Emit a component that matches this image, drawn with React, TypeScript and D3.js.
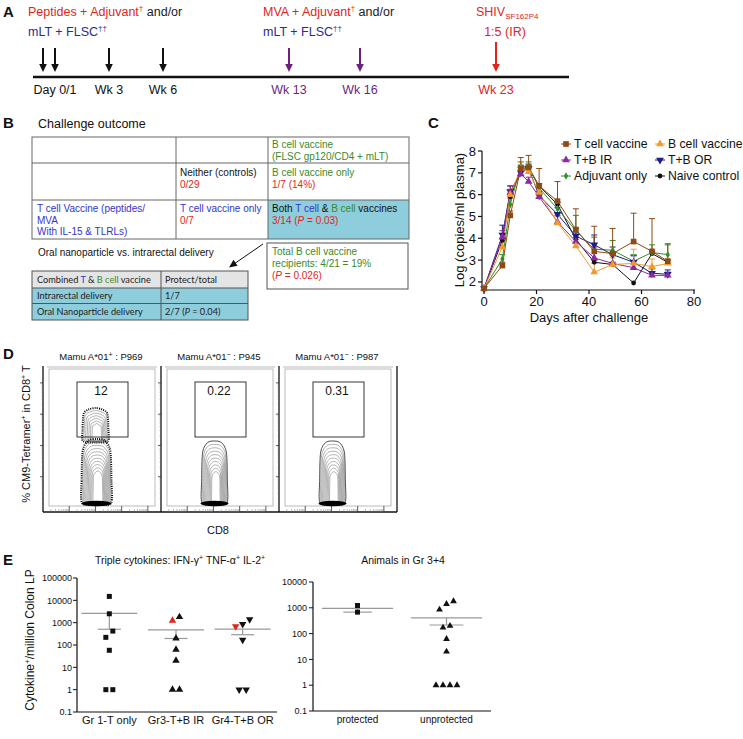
import React, { useEffect } from 'react';
import * as d3 from 'd3';

const FONT = "'Liberation Sans', Arial, Helvetica, sans-serif";
const RED = '#e1251b';
const NAVY = '#2e2b90';
const PURPLE = '#6d1f7e';
const GREEN = '#3b8a2a';
const BLUE = '#3434cc';
const CELL = '#8ecddc';

// ---------- A: timeline ----------
const primeDays = [0, 1, 21, 42];
const boostDays = [91, 112];
const challengeDays = [161];
const timeLabels = ['Day 0/1', 'Wk 3', 'Wk 6', 'Wk 13', 'Wk 16', 'Wk 23'];
const timeLabelDays = [1, 21, 42, 91, 112, 161];

// ---------- C: viral loads ----------
const days = [0, 7, 10, 14, 17, 21, 28, 35, 42, 49, 57, 64, 70];
const seriesNames = ['T cell vaccine', 'B cell vaccine', 'T+B IR', 'T+B OR', 'Adjuvant only', 'Naive control'];
const tCell = [1.7, 2.75, 5.05, 7.2, 7.25, 6.4, 5.7, 4.4, 3.4, 3.3, 3.85, 3.4, 2.95];
const tCellErr = [0, 0.15, 0.2, 0.5, 0.55, 0.8, 0.9, 0.95, 1.15, 1.15, 1.3, 1.5, 0.8];
const bCell = [1.7, 3.6, 6.0, 7.2, 7.05, 6.1, 4.7, 3.65, 2.45, 2.8, 2.85, 2.7, 2.85];
const bCellErr = [0, 0.25, 0.25, 0.3, 0.3, 0.25, 0.3, 0.3, 0.4, 0.3, 0.65, 0.35, 0.2];
const tbIR = [1.7, 4.05, 6.1, 6.95, 6.6, 5.9, 4.75, 3.85, 3.1, 2.85, 2.65, 2.3, 2.3];
const tbIRErr = [0, 0.3, 0.3, 0.3, 0.2, 0.2, 0.3, 0.4, 0.5, 0.4, 0.55, 0.1, 0.15];
const tbOR = [1.7, 4.15, 6.15, 7.0, 7.2, 5.95, 5.1, 4.1, 3.7, 3.25, 2.9, 2.4, 2.35];
const tbORErr = [0, 0.45, 0.25, 0.35, 0.2, 0.2, 0.3, 0.35, 0.45, 0.35, 0.3, 0.2, 0.2];
const adjOnly = [1.7, 3.05, 5.55, 7.3, 7.3, 6.3, 5.35, 4.35, 3.5, 3.45, 2.95, 3.35, 3.25];
const adjOnlyErr = [0, 0.2, 0.3, 0.2, 0.2, 0.2, 0.3, 0.7, 0.55, 0.45, 0.3, 0.35, 0.45];
const naive = [1.7, 3.9, 5.9, 7.15, 7.2, 6.4, 5.55, 3.95, 2.9, 2.8, 1.95, 3.3, 2.9];
const naiveErr = [0, 0.1, 0.1, 0.1, 0.1, 0.1, 0.1, 0.1, 0.1, 0.1, 0, 0.1, 0.1];
const cTicksX = [0, 20, 40, 60, 80];
const cTicksY = [2, 3, 4, 5, 6, 7, 8];

// ---------- D: flow ----------
const facsStatus = ['+', '\u2212', '\u2212'];
const facsAnimal = ['P969', 'P945', 'P987'];
const facsGate = ['12', '0.22', '0.31'];

// ---------- E: cytokines ----------
const eGroups = ['Gr 1-T only', 'Gr3-T+B IR', 'Gr4-T+B OR'];
const gr1 = [15000, 2500, 420, 220, 58, 1, 1];
const gr3Protected = [1230];
const gr3Unprotected = [1800, 200, 62, 20, 1, 1];
const gr4Protected = [680];
const gr4Unprotected = [1400, 850, 170, 1, 1];
const eTicks1 = [0.1, 1, 10, 100, 1000, 10000, 100000];
const eTicks2 = [0.1, 1, 10, 100, 1000, 10000];
const outcomeCats = ['protected', 'unprotected'];

function fmt(v: number) {
  return v < 1 ? String(v) : d3.format('d')(v);
}

function swarm(values: number[], y: (v: number) => number, thr = 6.5, gap = 7) {
  const items = values.map((v, i) => ({ v, i, py: y(v), off: 0 })).sort((a, b) => a.py - b.py);
  const rows: any[][] = [];
  items.forEach((it, k) => {
    if (k > 0 && it.py - items[k - 1].py < thr) rows[rows.length - 1].push(it);
    else rows.push([it]);
  });
  rows.forEach((r) => {
    r.sort((a, b) => a.v - b.v);
    r.forEach((it, j) => (it.off = (j - (r.length - 1) / 2) * gap));
  });
  return items;
}

function Arrow({ x, y1, y2, color }: any) {
  return (
    <g>
      <line x1={x} x2={x} y1={y1} y2={y2 - 6} stroke={color} strokeWidth={2} />
      <path d={`M${x - 3.8},${y2 - 8}L${x + 3.8},${y2 - 8}L${x},${y2}Z`} fill={color} />
    </g>
  );
}

function PanelA() {
  const x = d3.scaleLinear().domain([0, 1, 21, 42, 91, 112, 161]).range([43, 55, 109, 163, 289, 360, 496]);
  const labelColor = (d: number) => (d >= 161 ? RED : d >= 91 ? PURPLE : '#111');
  return (
    <g fontSize={12.5}>
      <text x={3} y={17} fontWeight="bold" fontSize={15}>A</text>
      <text x={28} y={16}>
        <tspan fill={RED}>Peptides + Adjuvant</tspan>
        <tspan fill={RED} dy={-5} fontSize={8}>†</tspan>
        <tspan dy={5} fill="#222"> and/or</tspan>
      </text>
      <text x={28} y={36} fill={NAVY}>
        <tspan>mLT + FLSC</tspan>
        <tspan dy={-5} fontSize={8}>††</tspan>
      </text>
      <text x={263} y={16}>
        <tspan fill={RED}>MVA + Adjuvant</tspan>
        <tspan fill={RED} dy={-5} fontSize={8}>†</tspan>
        <tspan dy={5} fill="#222"> and/or</tspan>
      </text>
      <text x={263} y={36} fill={NAVY}>
        <tspan>mLT + FLSC</tspan>
        <tspan dy={-5} fontSize={8}>††</tspan>
      </text>
      <text x={476} y={16} fill={RED}>
        <tspan>SHIV</tspan>
        <tspan dy={3} fontSize={8}>SF162P4</tspan>
      </text>
      <text x={505} y={36} fill={RED} textAnchor="middle">1:5 (IR)</text>
      {primeDays.map((d) => <Arrow key={'p' + d} x={x(d)} y1={48} y2={72} color="#111" />)}
      {boostDays.map((d) => <Arrow key={'b' + d} x={x(d)} y1={48} y2={72} color={PURPLE} />)}
      {challengeDays.map((d) => <Arrow key={'c' + d} x={x(d)} y1={42} y2={72} color={RED} />)}
      <line x1={33} x2={569} y1={77} y2={77} stroke="#111" strokeWidth={2.5} />
      {timeLabels.map((t, i) => (
        <text key={t} x={x(timeLabelDays[i])} y={94} textAnchor="middle" fill={labelColor(timeLabelDays[i])}>{t}</text>
      ))}
    </g>
  );
}

function PanelB() {
  const L = 32, R = 409, C1 = 176, C2 = 268;
  const rows = [137, 163, 200, 239];
  const fs = 10;
  return (
    <g fontSize={fs}>
      <text x={3} y={128} fontWeight="bold" fontSize={15}>B</text>
      <text x={38} y={128} fontSize={12.5}>Challenge outcome</text>
      <rect x={C2} y={rows[2]} width={R - C2} height={rows[3] - rows[2]} fill={CELL} />
      <rect x={L} y={rows[0]} width={R - L} height={rows[3] - rows[0]} fill="none" stroke="#666" />
      {rows.slice(1, 3).map((r) => <line key={r} x1={L} x2={R} y1={r} y2={r} stroke="#666" />)}
      {[C1, C2].map((c) => <line key={c} x1={c} x2={c} y1={rows[0]} y2={rows[3]} stroke="#666" />)}
      <text x={272} y={148} fill={GREEN}>B cell vaccine</text>
      <text x={272} y={160} fill={GREEN}>(FLSC gp120/CD4 + mLT)</text>
      <text x={180} y={176} fill="#111">Neither (controls)</text>
      <text x={180} y={188} fill={RED}>0/29</text>
      <text x={272} y={176} fill={GREEN}>B cell vaccine only</text>
      <text x={272} y={188} fill={RED}>1/7 (14%)</text>
      <text x={37} y={212} fill={BLUE}>T cell Vaccine  (peptides/</text>
      <text x={37} y={223.5} fill={BLUE}>MVA</text>
      <text x={37} y={235} fill={BLUE}>With IL-15 &amp; TLRLs)</text>
      <text x={180} y={212} fill={BLUE}>T cell vaccine only</text>
      <text x={180} y={224} fill={RED}>0/7</text>
      <text x={272} y={212} fill="#111">
        <tspan>Both </tspan><tspan fill={BLUE}>T cell</tspan><tspan> &amp; </tspan>
        <tspan fill={GREEN}>B cell</tspan><tspan> vaccines</tspan>
      </text>
      <text x={272} y={224} fill={RED}>
        <tspan>3/14 (</tspan><tspan fontStyle="italic">P</tspan><tspan> = 0.03)</tspan>
      </text>
      <text x={38} y={256} fill="#111">Oral nanoparticle vs. intrarectal delivery</text>
      <line x1={263} y1={244} x2={234} y2={264} stroke="#111" strokeWidth={1} />
      <path d="M229,267.5L233.5,259.8L237.5,265.8Z" fill="#111" />
      <rect x={267} y={243} width={141} height={46} fill="#fff" stroke="#555" />
      <text x={272} y={255} fill={GREEN}>Total B cell vaccine</text>
      <text x={272} y={267} fill={GREEN}>recipients:  4/21 = 19%</text>
      <text x={272} y={279} fill={RED}>
        <tspan>(</tspan><tspan fontStyle="italic">P</tspan><tspan> = 0.026)</tspan>
      </text>
      <g fontFamily="Lato, 'Open Sans', sans-serif" fontSize={9.2}>
        <rect x={32} y={271} width={216} height={17} fill="#e4e4e4" />
        <rect x={32} y={288} width={216} height={32} fill={CELL} />
        <rect x={32} y={271} width={216} height={49} fill="none" stroke="#555" />
        <line x1={32} x2={248} y1={288} y2={288} stroke="#555" />
        <line x1={32} x2={248} y1={303.5} y2={303.5} stroke="#555" />
        <line x1={161} x2={161} y1={271} y2={320} stroke="#555" />
        <text x={37} y={283} fill="#222">
          <tspan>Combined </tspan><tspan fill={BLUE}>T</tspan><tspan> &amp; </tspan>
          <tspan fill={GREEN}>B cell</tspan><tspan> vaccine</tspan>
        </text>
        <text x={165} y={283} fill="#222">Protect/total</text>
        <text x={37} y={299} fill="#222">Intrarectal delivery</text>
        <text x={165} y={299} fill="#222">1/7</text>
        <text x={37} y={315} fill="#222">Oral Nanoparticle delivery</text>
        <text x={165} y={315} fill="#222">
          <tspan>2/7 (</tspan><tspan fontStyle="italic">P</tspan><tspan> = 0.04)</tspan>
        </text>
      </g>
    </g>
  );
}

function PanelC() {
  const x = d3.scaleLinear().domain([0, 80]).range([484, 694]);
  const y = d3.scaleLinear().domain([1.63, 8]).range([290, 151]);
  const values = [tCell, bCell, tbIR, tbOR, adjOnly, naive];
  const errs = [tCellErr, bCellErr, tbIRErr, tbORErr, adjOnlyErr, naiveErr];
  const colors = ['#8e4a14', '#f39a2e', '#8a2a9e', '#1d1d8a', '#2f8f2a', '#111'];
  const symTypes = [d3.symbolSquare, d3.symbolTriangle, d3.symbolTriangle, d3.symbolTriangle, d3.symbolDiamond, d3.symbolCircle];
  const symSizes = [32, 26, 26, 26, 16, 18];
  const rot = [0, 0, 0, 180, 0, 0];
  const line = d3.line<number>().x((_, i) => x(days[i])).y((v) => y(v));
  const order = [5, 4, 3, 2, 1, 0];
  const mk = (i: number) => d3.symbol().type(symTypes[i]).size(symSizes[i])() as string;
  const legendPos = [[566, 144], [660, 144], [566, 160], [660, 160], [566, 176], [660, 176]];
  return (
    <g fontSize={13}>
      <text x={428} y={128} fontWeight="bold" fontSize={15}>C</text>
      <line x1={482} x2={482} y1={151} y2={290} stroke="#111" strokeWidth={1.2} />
      <line x1={482} x2={695} y1={290} y2={290} stroke="#111" strokeWidth={1.2} />
      {cTicksY.map((t) => (
        <g key={t}>
          <line x1={478} x2={482} y1={y(t)} y2={y(t)} stroke="#111" strokeWidth={1.2} />
          <text x={476} y={y(t) + 4.5} textAnchor="end">{t}</text>
        </g>
      ))}
      {cTicksX.map((t) => (
        <g key={t}>
          <line x1={x(t)} x2={x(t)} y1={290} y2={294} stroke="#111" strokeWidth={1.2} />
          <text x={x(t)} y={306} textAnchor="middle">{t}</text>
        </g>
      ))}
      <text x={x(40)} y={322} textAnchor="middle">Days after challenge</text>
      <text transform={`translate(464,220) rotate(-90)`} textAnchor="middle">Log (copies/ml plasma)</text>
      {order.map((s) => (
        <path key={'l' + s} d={line(values[s]) as string} fill="none" stroke={colors[s]} strokeWidth={1} />
      ))}
      {order.map((s) => (
        <g key={'e' + s} stroke={colors[s]} strokeWidth={1}>
          {values[s].map((v, i) => errs[s][i] > 0 ? (
            <g key={i}>
              <line x1={x(days[i])} x2={x(days[i])} y1={y(v)} y2={y(v + errs[s][i])} />
              <line x1={x(days[i]) - 3} x2={x(days[i]) + 3} y1={y(v + errs[s][i])} y2={y(v + errs[s][i])} />
            </g>
          ) : null)}
        </g>
      ))}
      {order.map((s) => (
        <g key={'m' + s} fill={colors[s]}>
          {values[s].map((v, i) => (
            <path key={i} d={mk(s)} transform={`translate(${x(days[i])},${y(v)}) rotate(${rot[s]})`} />
          ))}
        </g>
      ))}
      <g fontSize={12.2}>
        {seriesNames.map((n, s) => (
          <g key={n} transform={`translate(${legendPos[s][0]},${legendPos[s][1]})`}>
            <line x1={-5} x2={5} y1={0} y2={0} stroke={colors[s]} strokeWidth={1} />
            <path d={mk(s)} fill={colors[s]} transform={`rotate(${rot[s]})`} />
            <text x={8} y={4.3}>{n}</text>
          </g>
        ))}
      </g>
    </g>
  );
}

function colPath(cx: number, top: number, bot: number, hw: number) {
  const h = bot - top;
  const pts: [number, number][] = [
    [cx - hw, bot], [cx - hw * 1.03, bot - h * 0.35], [cx - hw * 0.95, top + h * 0.18], [cx - hw * 0.55, top + 1.5],
    [cx, top], [cx + hw * 0.55, top + 1.5], [cx + hw * 0.95, top + h * 0.18], [cx + hw * 1.03, bot - h * 0.35],
    [cx + hw, bot], [cx, bot + 1.5],
  ];
  return d3.line().curve(d3.curveCardinalClosed.tension(0.2))(pts) as string;
}

function Population({ cx, top, bot, hw, n, outer }: any) {
  const levels = d3.range(n).map((j) => j / n);
  return (
    <g fill="none">
      {levels.map((t, j) => (
        <path key={j} d={colPath(cx + t * 1.5, top + t * (bot - top) * 0.55, bot - t * 2, hw * (1 - 0.75 * t))}
          stroke={j === 0 && outer ? '#000' : j === 0 ? '#222' : '#555'}
          strokeWidth={j === 0 && outer ? 2 : j === 0 ? 0.8 : 0.45}
          strokeDasharray={j === 0 && outer ? '1 1.2' : undefined} />
      ))}
    </g>
  );
}

function PanelD() {
  const fy = d3.scaleLinear().domain([0, 4.54]).range([508, 366]);
  const fx = d3.scaleLinear().domain([0, 4.5]).range([0, 118]);
  const minor = d3.range(0, 4).flatMap((d) => d3.range(2, 10).map((m) => d + Math.log10(m)));
  return (
    <g>
      <text x={3} y={359} fontWeight="bold" fontSize={15}>D</text>
      <text transform="translate(30,434) rotate(-90)" textAnchor="middle" fontSize={11}>
        <tspan>% CM9-Tetramer</tspan><tspan dy={-4} fontSize={7}>+</tspan>
        <tspan dy={4}> in CD8</tspan><tspan dy={-4} fontSize={7}>+</tspan><tspan dy={4}> T</tspan>
      </text>
      <text x={218} y={534} textAnchor="middle" fontSize={11}>CD8</text>
      {facsAnimal.map((a, i) => {
        const x0 = 43 + i * 118;
        const cx = x0 + 53.5;
        return (
          <g key={a}>
            <text x={x0 + 58} y={360} textAnchor="middle" fontSize={9.5}>
              <tspan>Mamu A*01</tspan><tspan dy={-3.5} fontSize={7}>{facsStatus[i]}</tspan>
              <tspan dy={3.5}> : {a}</tspan>
            </text>
            <rect x={x0 + 6} y={369} width={106} height={137} fill="none" stroke="#aaa" strokeWidth={0.8} />
            <line x1={x0 + 4} x2={x0 + 114} y1={367} y2={367} stroke="#bbb" strokeWidth={1} />
            <line x1={x0} x2={x0} y1={366} y2={512} stroke="#111" strokeWidth={1.3} />
            <line x1={x0} x2={x0 + 118} y1={512} y2={512} stroke="#111" strokeWidth={1.3} />
            {[1, 2, 3, 4].map((d) => (
              <line key={'ly' + d} x1={x0 - 3} x2={x0} y1={fy(d)} y2={fy(d)} stroke="#333" strokeWidth={0.8} />
            ))}
            {minor.map((d, k) => (
              <line key={'my' + k} x1={x0 - 1.5} x2={x0} y1={fy(d)} y2={fy(d)} stroke="#777" strokeWidth={0.5} />
            ))}
            {[1, 2, 3, 4].map((d) => (
              <line key={'lx' + d} x1={x0 + fx(d)} x2={x0 + fx(d)} y1={506} y2={512} stroke="#333" strokeWidth={0.8} />
            ))}
            {minor.map((d, k) => (
              <line key={'mx' + k} x1={x0 + fx(d)} x2={x0 + fx(d)} y1={509} y2={512} stroke="#777" strokeWidth={0.5} />
            ))}
            {i === 0 && <Population cx={cx - 1} top={408} bot={441} hw={12.5} n={7} outer />}
            <Population cx={cx} top={i === 0 ? 439 : 441} bot={503} hw={i === 0 ? 14.5 : 12.5} n={i === 0 ? 11 : 10} outer={i === 0} />
            <ellipse cx={cx} cy={503.5} rx={i === 0 ? 15 : 14} ry={2.8} fill="#000" />
            <rect x={x0 + 34} y={382} width={51} height={55} fill="none" stroke="#222" strokeWidth={0.9} />
            <text x={x0 + 58} y={395} textAnchor="middle" fontSize={12}>{facsGate[i]}</text>
          </g>
        );
      })}
      <line x1={397} x2={397} y1={366} y2={512} stroke="#111" strokeWidth={1.3} />
    </g>
  );
}

function ScatterGroup({ values, cx, y, shape, fill, size }: any) {
  const pts = swarm(values, y);
  const sym = d3.symbol().type(shape === 'square' ? d3.symbolSquare : d3.symbolTriangle).size(size)() as string;
  return (
    <g fill={fill}>
      {pts.map((p) => (
        <path key={p.i} d={sym} transform={`translate(${cx + p.off},${p.py}) rotate(${shape === 'down' ? 180 : 0})`} />
      ))}
    </g>
  );
}

function MeanSem({ values, cx, y, longW, shortW }: any) {
  const m = d3.mean(values) as number;
  const sem = (d3.deviation(values) as number) / Math.sqrt(values.length);
  const lo = m - sem;
  return (
    <g stroke="#999" strokeWidth={1.2}>
      <line x1={cx - longW / 2} x2={cx + longW / 2} y1={y(m)} y2={y(m)} />
      <line x1={cx} x2={cx} y1={y(m)} y2={y(lo)} />
      <line x1={cx - shortW / 2} x2={cx + shortW / 2} y1={y(lo)} y2={y(lo)} />
    </g>
  );
}

function PanelE() {
  const y1 = d3.scaleLog().domain([0.1, 100000]).range([712, 578]);
  const x1 = d3.scalePoint().domain(eGroups).range([76, 276]).padding(0.5);
  const y2 = d3.scaleLog().domain([0.1, 10000]).range([711, 582]);
  const x2 = d3.scalePoint().domain(outcomeCats).range([313, 491]).padding(0.5);
  const s1 = x1.step();
  const s2 = x2.step();
  const gr3All = [...gr3Protected, ...gr3Unprotected];
  const gr4All = [...gr4Protected, ...gr4Unprotected];
  const protectedAll = [...gr3Protected, ...gr4Protected];
  const unprotectedAll = [...gr3Unprotected, ...gr4Unprotected];
  const sw3 = swarm(gr3All, y1);
  const sw4 = swarm(gr4All, y1);
  const tri = d3.symbol().type(d3.symbolTriangle).size(24)() as string;
  const groupData = [gr1, gr3All, gr4All];
  return (
    <g>
      <text x={3} y={565} fontWeight="bold" fontSize={15}>E</text>
      <text x={180} y={564} textAnchor="middle" fontSize={10.5}>
        <tspan>Triple cytokines: IFN-γ</tspan><tspan dy={-4} fontSize={7}>+</tspan>
        <tspan dy={4}> TNF-α</tspan><tspan dy={-4} fontSize={7}>+</tspan>
        <tspan dy={4}> IL-2</tspan><tspan dy={-4} fontSize={7}>+</tspan>
      </text>
      <text x={403} y={564} textAnchor="middle" fontSize={10.5}>Animals in Gr 3+4</text>
      <text transform="translate(34,640) rotate(-90)" textAnchor="middle" fontSize={12}>
        <tspan>Cytokine</tspan><tspan dy={-4} fontSize={8}>+</tspan><tspan dy={4}>/million Colon LP</tspan>
      </text>
      <line x1={77} x2={77} y1={578} y2={712} stroke="#111" strokeWidth={1.2} />
      <line x1={77} x2={277} y1={712} y2={712} stroke="#111" strokeWidth={1.2} />
      {eTicks1.map((t) => (
        <g key={t}>
          <line x1={73} x2={77} y1={y1(t)} y2={y1(t)} stroke="#111" strokeWidth={1} />
          <text x={72} y={y1(t) + 3.2} textAnchor="end" fontSize={9}>{fmt(t)}</text>
        </g>
      ))}
      {eGroups.map((g) => (
        <text key={g} x={x1(g)} y={724} textAnchor="middle" fontSize={11}>{g}</text>
      ))}
      {groupData.map((vals, k) => (
        <MeanSem key={k} values={vals} cx={x1(eGroups[k]) as number} y={y1} longW={s1 * 0.84} shortW={s1 * 0.345} />
      ))}
      <ScatterGroup values={gr1} cx={x1(eGroups[0])} y={y1} shape="square" fill="#111" size={25} />
      <g>
        {sw3.map((p) => (
          <path key={p.i} d={tri} fill={p.i < gr3Protected.length ? RED : '#111'}
            transform={`translate(${(x1(eGroups[1]) as number) + p.off},${p.py})`} />
        ))}
        {sw4.map((p) => (
          <path key={p.i} d={tri} fill={p.i < gr4Protected.length ? RED : '#111'}
            transform={`translate(${(x1(eGroups[2]) as number) + p.off},${p.py}) rotate(180)`} />
        ))}
      </g>
      <line x1={313} x2={313} y1={582} y2={711} stroke="#111" strokeWidth={1.2} />
      <line x1={313} x2={491} y1={711} y2={711} stroke="#111" strokeWidth={1.2} />
      {eTicks2.map((t) => (
        <g key={t}>
          <line x1={309} x2={313} y1={y2(t)} y2={y2(t)} stroke="#111" strokeWidth={1} />
          <text x={307} y={y2(t) + 3.2} textAnchor="end" fontSize={9}>{fmt(t)}</text>
        </g>
      ))}
      {outcomeCats.map((g) => (
        <text key={g} x={x2(g)} y={723} textAnchor="middle" fontSize={10}>{g}</text>
      ))}
      <MeanSem values={protectedAll} cx={x2('protected') as number} y={y2} longW={s2 * 0.8} shortW={s2 * 0.32} />
      <MeanSem values={unprotectedAll} cx={x2('unprotected') as number} y={y2} longW={s2 * 0.8} shortW={s2 * 0.38} />
      <ScatterGroup values={protectedAll} cx={x2('protected')} y={y2} shape="square" fill="#111" size={25} />
      <ScatterGroup values={unprotectedAll} cx={x2('unprotected')} y={y2} shape="up" fill="#111" size={20} />
    </g>
  );
}

export default function App() {
  useEffect(() => {
    document.body.style.margin = '0';
  }, []);
  return (
    <svg width={743} height={739} style={{ display: 'block', position: 'absolute', left: 0, top: 0, background: '#fff' }}
      fontFamily={FONT} fill="#111">
      <PanelA />
      <PanelB />
      <PanelC />
      <PanelD />
      <PanelE />
    </svg>
  );
}
